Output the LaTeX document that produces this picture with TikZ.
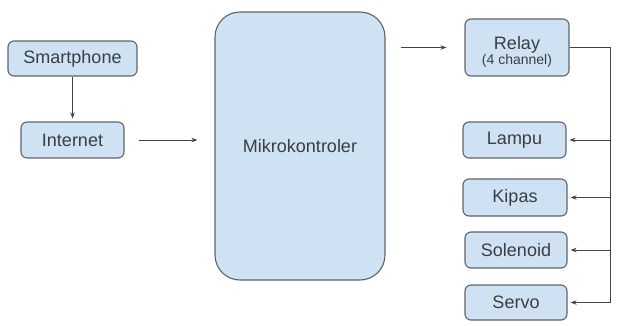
\documentclass[tikz,border=0pt]{standalone}
\usepackage{fontspec}
\setmainfont{Liberation Sans}
\usetikzlibrary{arrows.meta,calc}
\definecolor{boxfill}{HTML}{CFE2F3}
\definecolor{boxline}{HTML}{5F6368}
\definecolor{ink}{HTML}{3A3D42}
\definecolor{wire}{HTML}{444444}
\tikzset{
  blockbox/.style={draw=boxline, fill=boxfill, line width=1.1pt, rounded corners=6pt,
    inner sep=0pt, align=center, text=ink, font=\fontsize{18}{20}\selectfont},
  arr/.style={draw=wire, line width=0.9pt, -{Stealth[length=6pt,width=4.5pt]}},
  wireline/.style={draw=wire, line width=0.9pt}
}
\begin{document}
\begin{tikzpicture}[x=1pt,y=-1pt]
\useasboundingbox (0,0) rectangle (621,325);

% input side
\node[blockbox, minimum width=129pt, minimum height=35pt] (phone) at (72.5,58.5) {Smartphone};
\node[blockbox, minimum width=103pt, minimum height=36pt] (inet) at (72.5,140) {Internet};

% controller
\node[blockbox, rounded corners=25pt, minimum width=170pt, minimum height=268pt] (mcu) at (300,146) {Mikrokontroler};

% relay and loads
\node[blockbox, minimum width=104pt, minimum height=57pt] (relay) at (517,47.5) {};
\node[text=ink, align=center, inner sep=0pt] (relaylbl) at ([yshift=-4pt]relay.center)
  {\fontsize{18}{20}\selectfont Relay\\[0pt]{\fontsize{14}{15}\selectfont(4 channel)}};
\node[blockbox, minimum width=103pt, minimum height=36pt] (lampu) at (514.5,140) {Lampu};
\node[blockbox, minimum width=104pt, minimum height=37pt] (kipas) at (515,197.5) {Kipas};
\node[blockbox, minimum width=102pt, minimum height=36pt] (solenoid) at (516,250) {Solenoid};
\node[blockbox, minimum width=102pt, minimum height=35pt] (servo) at (516,302.5) {Servo};

% signal flow
\draw[arr, shorten >=3pt] (phone) -- (inet);
\draw[arr, shorten <=14pt, shorten >=17pt] (inet.east) -- (inet.east -| mcu.west);
\draw[arr, shorten <=15pt, shorten >=18pt] (relay.west -| mcu.east) -- (relay.west);

% relay output bus
\coordinate (busTop) at (610,47.5);
\coordinate (busBot) at (610,302.5);
\draw[wireline] (relay.east) -- (busTop) -- (busBot);
\foreach \n in {lampu,kipas,solenoid,servo}
  \draw[arr, shorten >=3pt] (\n.east -| busTop) -- (\n.east);
\end{tikzpicture}
\end{document}
